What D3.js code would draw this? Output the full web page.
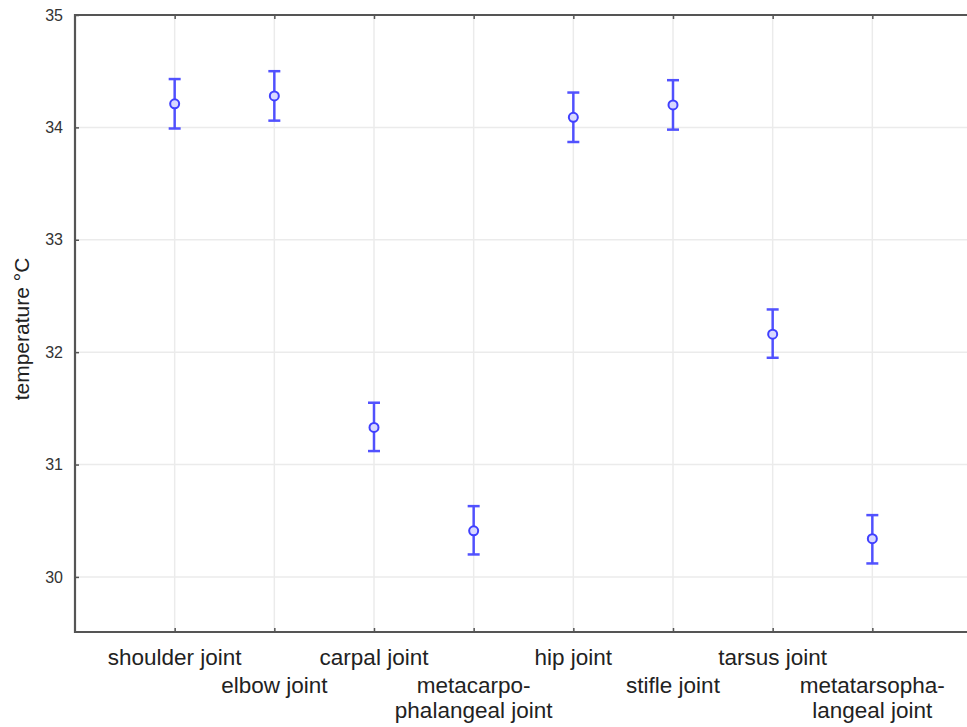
<!DOCTYPE html>
<html>
<head>
<meta charset="utf-8">
<script src="https://cdn.jsdelivr.net/npm/d3@7"></script>
<style>
  html, body { margin: 0; padding: 0; background: #fff; overflow: hidden; }
  svg { display: block; }
</style>
</head>
<body>
<svg id="chart" width="967" height="727"></svg>
<script>
// ---- data ----
const categories = [
  ["shoulder joint"],
  ["elbow joint"],
  ["carpal joint"],
  ["metacarpo-", "phalangeal joint"],
  ["hip joint"],
  ["stifle joint"],
  ["tarsus joint"],
  ["metatarsopha-", "langeal joint"]
];
const means = [34.21, 34.28, 31.33, 30.41, 34.09, 34.20, 32.16, 30.34];
const lower = [33.99, 34.06, 31.12, 30.20, 33.87, 33.98, 31.95, 30.12];
const upper = [34.43, 34.50, 31.55, 30.63, 34.31, 34.42, 32.38, 30.55];
const yTicks = [30, 31, 32, 33, 34, 35];
const yTitle = "temperature °C";

// ---- layout ----
const svg = d3.select("#chart");
const mL = 75, mR = 972, mT = 15, mB = 632;

const x = d3.scaleLinear().domain([0, categories.length + 1]).range([mL, mR]);
const y = d3.scaleLinear().domain([29.51, 35]).range([mB, mT]);

const gridColor = "#ebebeb";
const axisColor = "#555";
const blue = "#4040ff";

// gridlines
svg.append("g").selectAll("line").data(yTicks).join("line")
  .attr("x1", mL).attr("x2", mR)
  .attr("y1", d => y(d)).attr("y2", d => y(d))
  .attr("stroke", gridColor).attr("stroke-width", 1.5);
svg.append("g").selectAll("line").data(categories).join("line")
  .attr("x1", (d, i) => x(i + 1)).attr("x2", (d, i) => x(i + 1))
  .attr("y1", mT).attr("y2", mB)
  .attr("stroke", gridColor).attr("stroke-width", 1.5);

// left axis
const yAxis = d3.axisLeft(y).tickValues(yTicks).tickSize(-4).tickPadding(12).tickFormat(d3.format("d"));
const gy = svg.append("g").attr("transform", `translate(${mL},0)`).call(yAxis);
gy.select(".domain").remove();
gy.selectAll(".tick line").attr("stroke", axisColor).attr("stroke-width", 1.5);
gy.selectAll(".tick text").attr("font-family", "Liberation Sans, Arial, sans-serif")
  .attr("font-size", 16).attr("fill", "#333");

// bottom axis ticks (inward)
const xAxis = d3.axisBottom(x).tickValues(categories.map((d, i) => i + 1)).tickSize(-4).tickFormat("");
const gx = svg.append("g").attr("transform", `translate(0,${mB})`).call(xAxis);
gx.select(".domain").remove();
gx.selectAll(".tick line").attr("stroke", axisColor).attr("stroke-width", 1.5);

// top axis ticks (inward)
const xAxisTop = d3.axisTop(x).tickValues(categories.map((d, i) => i + 1)).tickSize(-4).tickFormat("");
const gxt = svg.append("g").attr("transform", `translate(0,${mT})`).call(xAxisTop);
gxt.select(".domain").remove();
gxt.selectAll(".tick line").attr("stroke", axisColor).attr("stroke-width", 1.5);

// frame
svg.append("path")
  .attr("d", `M${mR},${mT}H${mL}V${mB}H${mR}V${mT}`)
  .attr("fill", "none").attr("stroke", axisColor).attr("stroke-width", 2.2);

// category labels
const lab = svg.append("g").attr("font-family", "Liberation Sans, Arial, sans-serif")
  .attr("font-size", 22.5).attr("fill", "#222").attr("text-anchor", "middle");
categories.forEach((lines, i) => {
  const baseY = (i % 2 === 0) ? 665 : 693;
  lines.forEach((t, k) => {
    lab.append("text").attr("x", x(i + 1)).attr("y", baseY + k * 25).text(t);
  });
});

// y title
svg.append("text")
  .attr("transform", `translate(29,329) rotate(-90)`)
  .attr("text-anchor", "middle")
  .attr("font-family", "Liberation Sans, Arial, sans-serif")
  .attr("font-size", 21).attr("fill", "#222")
  .text(yTitle);

// error bars
const eb = svg.append("g").attr("stroke", blue).attr("stroke-width", 2.5).attr("opacity", 0.9);
eb.selectAll("line.v").data(means).join("line").attr("class", "v")
  .attr("x1", (d, i) => x(i + 1)).attr("x2", (d, i) => x(i + 1))
  .attr("y1", (d, i) => y(upper[i])).attr("y2", (d, i) => y(lower[i]));
eb.selectAll("line.t").data(upper).join("line").attr("class", "t")
  .attr("x1", (d, i) => x(i + 1) - 6).attr("x2", (d, i) => x(i + 1) + 6)
  .attr("y1", d => y(d)).attr("y2", d => y(d));
eb.selectAll("line.b").data(lower).join("line").attr("class", "b")
  .attr("x1", (d, i) => x(i + 1) - 6).attr("x2", (d, i) => x(i + 1) + 6)
  .attr("y1", d => y(d)).attr("y2", d => y(d));

// points
svg.append("g").selectAll("circle").data(means).join("circle")
  .attr("cx", (d, i) => x(i + 1)).attr("cy", d => y(d)).attr("r", 4.5)
  .attr("fill", "#d8d8ff").attr("stroke", blue).attr("stroke-width", 2);
</script>
</body>
</html>
